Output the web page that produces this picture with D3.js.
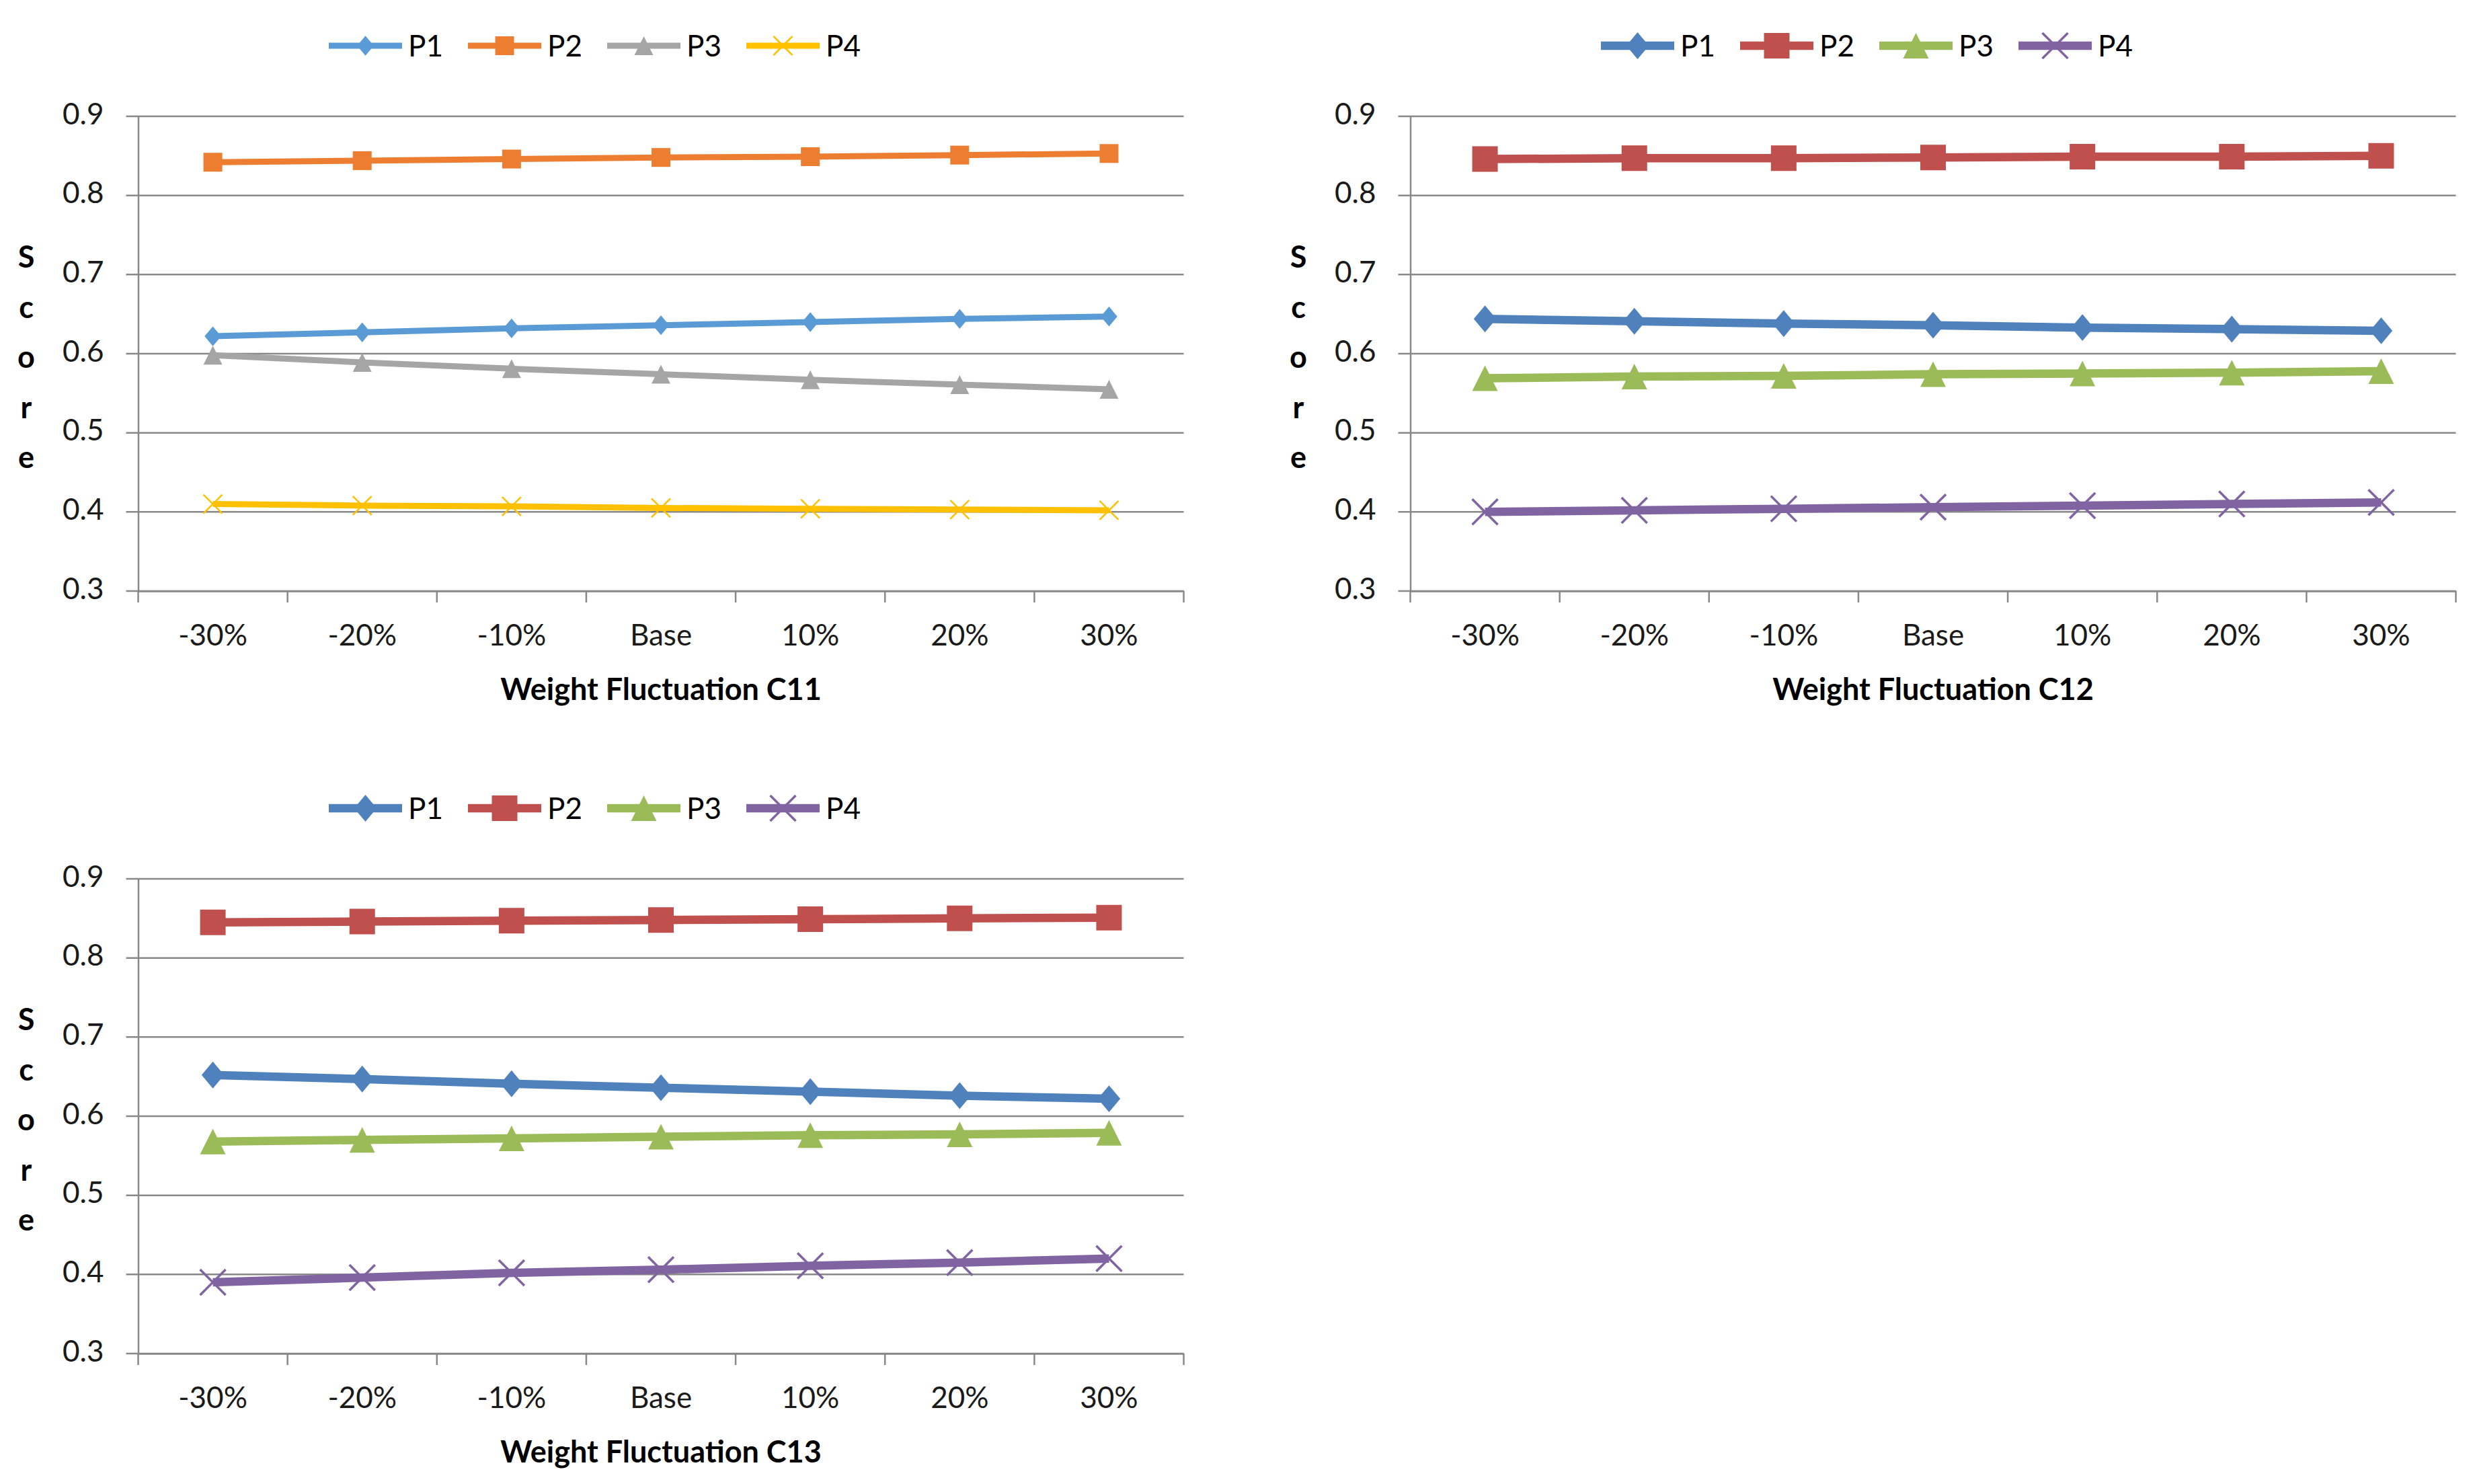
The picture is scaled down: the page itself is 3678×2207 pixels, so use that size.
<!DOCTYPE html>
<html>
<head>
<meta charset="utf-8">
<script src="https://cdn.jsdelivr.net/npm/d3@7"></script>
<style>
  body { margin: 0; background: #fff; }
  svg { display: block; }
  .tick-label { font-family: Lato, "Open Sans", sans-serif; font-size: 44px; fill: #1a1a1a; }
  .axis-title { font-family: Lato, "Open Sans", sans-serif; font-size: 45px; font-weight: bold; fill: #000; }
  .legend-label { font-family: Lato, "Open Sans", sans-serif; font-size: 44px; fill: #000; }
</style>
</head>
<body>
<div id="chart"></div>
<script>
// categories and values
const categories = ['-30%', '-20%', '-10%', 'Base', '10%', '20%', '30%'];
const seriesNames = ['P1', 'P2', 'P3', 'P4'];
const yTicks = [0.3, 0.4, 0.5, 0.6, 0.7, 0.8, 0.9];

const c11P1 = [0.622, 0.627, 0.632, 0.636, 0.640, 0.644, 0.647];
const c11P2 = [0.842, 0.844, 0.846, 0.848, 0.849, 0.851, 0.853];
const c11P3 = [0.598, 0.589, 0.581, 0.574, 0.567, 0.561, 0.555];
const c11P4 = [0.410, 0.408, 0.407, 0.405, 0.404, 0.403, 0.402];

const c12P1 = [0.644, 0.641, 0.638, 0.636, 0.633, 0.631, 0.629];
const c12P2 = [0.846, 0.847, 0.847, 0.848, 0.849, 0.849, 0.850];
const c12P3 = [0.569, 0.571, 0.572, 0.574, 0.575, 0.576, 0.578];
const c12P4 = [0.400, 0.402, 0.404, 0.406, 0.408, 0.410, 0.412];

const c13P1 = [0.652, 0.647, 0.641, 0.636, 0.631, 0.626, 0.622];
const c13P2 = [0.845, 0.846, 0.847, 0.848, 0.849, 0.850, 0.851];
const c13P3 = [0.568, 0.570, 0.572, 0.574, 0.576, 0.577, 0.579];
const c13P4 = [0.390, 0.396, 0.402, 0.406, 0.411, 0.415, 0.420];

const titles = ['Weight Fluctuation C11', 'Weight Fluctuation C12', 'Weight Fluctuation C13'];

// styling / layout
const newColors = ['#5B9BD5', '#ED7D31', '#A5A5A5', '#FFC000'];
const oldColors = ['#4F81BD', '#C0504D', '#9BBB59', '#8064A2'];
const markerTypes = ['diamond', 'square', 'triangle', 'x'];
const gridColor = '#888888';

const panels = [
    {title: titles[0], series: [c11P1, c11P2, c11P3, c11P4], colors: newColors, ox: 0, oy: 0, lineWidth: 9, marker: 28},
    {title: titles[1], series: [c12P1, c12P2, c12P3, c12P4], colors: oldColors, ox: 1892, oy: 0, lineWidth: 12.5, marker: 38},
    {title: titles[2], series: [c13P1, c13P2, c13P3, c13P4], colors: oldColors, ox: 0, oy: 1134, lineWidth: 12.5, marker: 38}
];

const plot = {left: 205.5, width: 1555, top: 173, bottom: 879};

let svg = d3.select('#chart').append('svg')
    .attr('width', 3678)
    .attr('height', 2207);

svg.append('rect').attr('width', 3678).attr('height', 2207).attr('fill', '#fff');

function markerPath(type, s){
    let h = s / 2;
    if (type === 'diamond'){
        let w = h * 0.88, t = h * 1.05;
        return 'M0,' + (-t) + 'L' + w + ',0L0,' + t + 'L' + (-w) + ',0Z';
    }
    if (type === 'square'){
        return 'M' + (-h) + ',' + (-h) + 'H' + h + 'V' + h + 'H' + (-h) + 'Z';
    }
    if (type === 'triangle'){
        return 'M0,' + (-h) + 'L' + h + ',' + h + 'L' + (-h) + ',' + h + 'Z';
    }
    return 'M' + (-h) + ',' + (-h) + 'L' + h + ',' + h + 'M' + h + ',' + (-h) + 'L' + (-h) + ',' + h;
}

function drawMarker(g, type, color, s){
    let p = g.append('path').attr('d', markerPath(type, s));
    if (type === 'x'){
        p.attr('fill', 'none').attr('stroke', color).attr('stroke-width', s > 30 ? 3.5 : 2.5);
    }
    else{
        p.attr('fill', color);
    }
    return p;
}

panels.forEach((panel) => {
    let g = svg.append('g')
        .attr('transform', 'translate(' + panel.ox + ',' + panel.oy + ')');

    let x = d3.scaleBand()
        .domain(categories)
        .range([plot.left, plot.left + plot.width]);

    let y = d3.scaleLinear()
        .domain([0.3, 0.9])
        .range([plot.bottom, plot.top]);

    // horizontal gridlines
    g.selectAll('.grid')
        .data(yTicks)
        .enter().append('line')
        .attr('class', 'grid')
        .attr('x1', plot.left - 18)
        .attr('x2', plot.left + plot.width)
        .attr('y1', d => y(d))
        .attr('y2', d => y(d))
        .attr('stroke', gridColor)
        .attr('stroke-width', 2.5);

    // y axis
    let yAxis = g.append('g')
        .attr('transform', 'translate(' + plot.left + ',0)')
        .call(d3.axisLeft(y).tickValues(yTicks).tickSize(18).tickSizeOuter(0).tickPadding(33).tickFormat(d3.format('.1f')));
    yAxis.select('.domain').attr('stroke', gridColor).attr('stroke-width', 2.5);
    yAxis.selectAll('.tick line').remove();
    yAxis.selectAll('.tick text')
        .attr('class', 'tick-label')
        .attr('font-family', null).attr('font-size', null)
        .attr('dy', '0.32em')
        .attr('y', -3);

    // x axis
    let xAxis = g.append('g')
        .attr('transform', 'translate(0,' + plot.bottom + ')')
        .call(d3.axisBottom(x).tickSize(0).tickSizeOuter(0).tickPadding(0));
    xAxis.select('.domain').attr('stroke', gridColor).attr('stroke-width', 2.5);
    xAxis.selectAll('.tick line').remove();
    xAxis.selectAll('.tick text')
        .attr('class', 'tick-label')
        .attr('font-family', null).attr('font-size', null)
        .attr('dy', null)
        .attr('y', 81);

    // ticks between categories
    g.selectAll('.xtick')
        .data(d3.range(categories.length + 1))
        .enter().append('line')
        .attr('class', 'xtick')
        .attr('x1', i => plot.left + x.step() * i)
        .attr('x2', i => plot.left + x.step() * i)
        .attr('y1', plot.bottom)
        .attr('y2', plot.bottom + 17)
        .attr('stroke', gridColor)
        .attr('stroke-width', 2.5);

    // axis titles
    g.append('text')
        .attr('class', 'axis-title')
        .attr('x', plot.left + plot.width / 2)
        .attr('y', 1041)
        .attr('text-anchor', 'middle')
        .text(panel.title);

    g.selectAll('.score-letter')
        .data('Score'.split(''))
        .enter().append('text')
        .attr('class', 'axis-title score-letter')
        .attr('x', 39)
        .attr('y', (d, i) => 398 + i * 74.5)
        .attr('text-anchor', 'middle')
        .text(d => d);

    // series
    let line = d3.line()
        .x((d, i) => x(categories[i]) + x.bandwidth() / 2)
        .y(d => y(d));

    panel.series.forEach((values, s) => {
        let color = panel.colors[s];
        g.append('path')
            .datum(values)
            .attr('d', line)
            .attr('fill', 'none')
            .attr('stroke', color)
            .attr('stroke-width', panel.lineWidth)
            .attr('stroke-linejoin', 'round');

        values.forEach((v, i) => {
            let m = g.append('g')
                .attr('transform', 'translate(' + (x(categories[i]) + x.bandwidth() / 2) + ',' + y(v) + ')');
            drawMarker(m, markerTypes[s], color, panel.marker);
        });
    });

    // legend
    let legend = g.selectAll('.legend-item')
        .data(seriesNames)
        .enter().append('g')
        .attr('class', 'legend-item')
        .attr('transform', (d, i) => 'translate(' + (489 + i * 207) + ',68)');

    legend.append('line')
        .attr('x1', 0)
        .attr('x2', 109)
        .attr('stroke', (d, i) => panel.colors[i])
        .attr('stroke-width', panel.lineWidth);

    legend.each(function(d, i){
        let m = d3.select(this).append('g').attr('transform', 'translate(54.5,0)');
        drawMarker(m, markerTypes[i], panel.colors[i], panel.marker);
    });

    legend.append('text')
        .attr('class', 'legend-label')
        .attr('x', 118)
        .attr('y', 16)
        .text(d => d);
});
</script>
</body>
</html>
